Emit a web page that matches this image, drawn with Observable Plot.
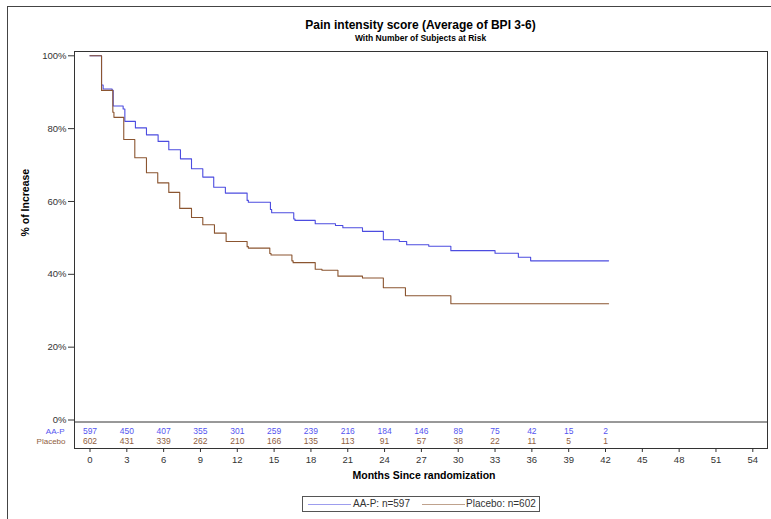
<!DOCTYPE html>
<html>
<head>
<meta charset="utf-8">
<script src="https://cdn.jsdelivr.net/npm/d3@7"></script>
<script src="https://cdn.jsdelivr.net/npm/@observablehq/plot@0.6"></script>
<style>
  html, body { margin: 0; padding: 0; background: #fff; }
  #wrap { position: relative; width: 771px; height: 519px; overflow: hidden; font-family: Arial, "Liberation Sans", sans-serif; }
  #border { position: absolute; left: 7px; top: 6px; width: 900px; height: 700px; border-left: 1px solid #444; border-top: 1px solid #444; }
  .ttl { position: absolute; left: 0; width: 841px; text-align: center; font-weight: bold; color: #000; white-space: nowrap; }
  #legend { position: absolute; left: 302px; top: 496px; width: 236px; height: 14px; border: 1px solid #555; font-size: 10px; color: #333; }
  #legend .ln { position: absolute; top: 7px; height: 0; border-top: 1px solid; }
  #legend .lt { position: absolute; top: 1px; white-space: nowrap; }
  #chart { position: absolute; left: 0; top: 0; }
</style>
</head>
<body>
<div id="wrap">
  <div id="border"></div>
  <div id="chart"></div>
  <div class="ttl" style="top:18px; font-size:12px;">Pain intensity score (Average of BPI 3-6)</div>
  <div class="ttl" style="top:33px; font-size:8.5px;">With Number of Subjects at Risk</div>
  <div id="legend"></div>
</div>
<script>
// ---- data ----
const seriesNames = ["AA-P", "Placebo"];
const seriesColors = ["#4c4ce0", "#8b5530"];
const riskColors = ["#5555f0", "#8f5e3e"];
const legendLabels = ["AA-P: n=597", "Placebo: n=602"];

const aapMonths = [0, 0.94, 1.07, 1.8, 1.89, 2.7, 2.84, 3.7, 4.6, 5.55, 6.42, 7.37, 8.27, 9.19, 10.08, 11.03, 12.8, 12.9, 14.7, 14.8, 16.6, 16.7, 18.35, 20.0, 20.6, 22.2, 23.9, 25.2, 25.8, 27.6, 29.4, 33.0, 34.9, 35.9, 42.25];
const aapPct    = [100, 92.0, 90.9, 90.5, 86.2, 85.4, 82.0, 80.2, 78.3, 76.5, 74.2, 71.7, 69.0, 66.7, 63.9, 62.3, 60.3, 59.8, 57.8, 56.9, 55.2, 54.8, 53.9, 53.4, 52.8, 51.8, 49.5, 49.0, 48.1, 47.7, 46.5, 45.8, 44.7, 43.7, 43.7];

const plaMonths = [0, 0.94, 1.86, 1.95, 2.75, 3.65, 4.6, 5.52, 6.42, 7.31, 8.27, 9.19, 10.14, 11.09, 12.8, 12.9, 14.65, 14.75, 16.45, 16.55, 18.35, 18.9, 20.2, 22.2, 23.9, 25.7, 29.4, 42.25];
const plaPct    = [100, 90.5, 84.5, 83.1, 77.0, 72.0, 67.9, 65.1, 62.5, 58.1, 55.6, 53.6, 51.3, 49.0, 47.6, 47.2, 45.7, 45.3, 43.7, 43.2, 41.4, 41.1, 39.5, 39.0, 36.3, 34.1, 31.9, 31.9];

const riskMonths = [0, 3, 6, 9, 12, 15, 18, 21, 24, 27, 30, 33, 36, 39, 42];
const aapRisk = [597, 450, 407, 355, 301, 259, 239, 216, 184, 146, 89, 75, 42, 15, 2];
const plaRisk = [602, 431, 339, 262, 210, 166, 135, 113, 91, 57, 38, 22, 11, 5, 1];

const xTicks = [0, 3, 6, 9, 12, 15, 18, 21, 24, 27, 30, 33, 36, 39, 42, 45, 48, 51, 54];
const yTicks = [0, 20, 40, 60, 80, 100];

// ---- build tables ----
const curves = [
  ...aapMonths.map((m, i) => ({series: "AA-P", month: m, pct: aapPct[i]})),
  ...plaMonths.map((m, i) => ({series: "Placebo", month: m, pct: plaPct[i]}))
];
const aapRiskRows = riskMonths.map((m, i) => ({month: m, n: aapRisk[i]}));
const plaRiskRows = riskMonths.map((m, i) => ({month: m, n: plaRisk[i]}));
const rowLabels = [{name: seriesNames[0], color: riskColors[0]}];
const rowLabels2 = [{name: seriesNames[1], color: riskColors[1]}];

const chart = Plot.plot({
  width: 771,
  height: 519,
  marginLeft: 74,
  marginRight: 4,
  marginTop: 51,
  marginBottom: 71,
  style: {fontFamily: "Arial, 'Liberation Sans', sans-serif", fontSize: "9px", color: "#333", background: "transparent"},
  x: {domain: [0, 54], range: [89.5, 752.3]},
  y: {domain: [0, 100], range: [419.5, 55.3]},
  color: {domain: seriesNames, range: seriesColors},
  marks: [
    Plot.frame({stroke: "#333"}),
    Plot.ruleY([0], {dy: 2, stroke: "#333"}),
    Plot.axisY({ticks: yTicks, tickFormat: d => d + "%", tickSize: 6, tickPadding: 2, label: null, fontSize: 9.5}),
    Plot.axisX({ticks: xTicks, tickSize: 4, tickPadding: 4, label: null, fontSize: 9.5}),
    Plot.line(curves, {x: "month", y: "pct", z: "series", stroke: "series", curve: "step-after", strokeWidth: 1.1}),
    Plot.text(aapRiskRows, {x: "month", text: d => String(d.n), frameAnchor: "bottom", dy: -15, fill: riskColors[0], fontSize: 8.5}),
    Plot.text(plaRiskRows, {x: "month", text: d => String(d.n), frameAnchor: "bottom", dy: -5, fill: riskColors[1], fontSize: 8.5}),
    Plot.text(rowLabels, {text: "name", fill: "color", frameAnchor: "bottom-left", dx: -10, dy: -15, textAnchor: "end", fontSize: 8}),
    Plot.text(rowLabels2, {text: "name", fill: "color", frameAnchor: "bottom-left", dx: -9, dy: -5, textAnchor: "end", fontSize: 8}),
    Plot.text(["% of Increase"], {text: d => d, frameAnchor: "left", rotate: -90, dx: -49, dy: -13.5, fontWeight: "bold", fontSize: 10.5, fill: "#000"}),
    Plot.text(["Months Since randomization"], {text: d => d, frameAnchor: "bottom", dx: 3, dy: 30, fontWeight: "bold", fontSize: 10.5, fill: "#000"})
  ]
});
document.getElementById("chart").appendChild(chart);

// legend
const legend = document.getElementById("legend");
const lineX = [5, 119];
const textX = [50, 163];
seriesNames.forEach((s, i) => {
  const ln = document.createElement("div");
  ln.className = "ln";
  ln.style.left = lineX[i] + "px";
  ln.style.width = "43px";
  ln.style.borderTopColor = seriesColors[i];
  ln.style.opacity = "0.55";
  legend.appendChild(ln);
  const t = document.createElement("div");
  t.className = "lt";
  t.style.left = textX[i] + "px";
  t.textContent = legendLabels[i];
  legend.appendChild(t);
});
</script>
</body>
</html>
